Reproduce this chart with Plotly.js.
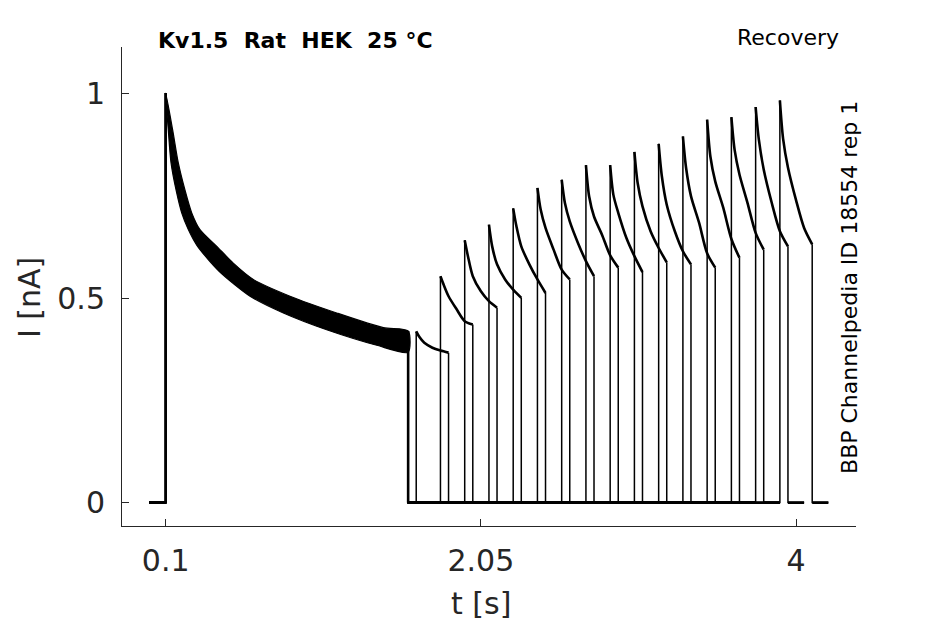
<!DOCTYPE html>
<html>
<head>
<meta charset="utf-8">
<script src="https://cdn.plot.ly/plotly-3.0.1.min.js"></script>
<style>
  html, body { margin: 0; padding: 0; background: #fff; }
  #chart { width: 945px; height: 624px; }
</style>
</head>
<body>
<div id="chart"></div>
<script>
// protocol timing [s]
const holdStart = 0.0;
const pulse1On = 0.1;
const pulse1Off = 1.6;
const pulse2Dur = 0.2;
const tailDur = 0.1;

// onset of the second (test) pulse in each sweep
const sweepStart = [1.65, 1.80, 1.95, 2.10, 2.25, 2.40, 2.55, 2.70,
                    2.85, 3.00, 3.15, 3.30, 3.45, 3.60, 3.75, 3.90];

// first pulse: noisy band (16 overlaid sweeps), upper and lower edges
const bandUpperT = [0.100, 0.143, 0.178, 0.219, 0.261, 0.312, 0.416, 0.518, 0.642, 0.869, 1.158, 1.447, 1.600];
const bandUpperI = [1.002, 0.912, 0.831, 0.765, 0.709, 0.668, 0.627, 0.586, 0.546, 0.505, 0.464, 0.428, 0.420];
const bandLowerT = [0.100, 0.116, 0.133, 0.164, 0.199, 0.240, 0.292, 0.374, 0.447, 0.622, 0.828, 1.096, 1.406, 1.600];
const bandLowerI = [1.002, 0.912, 0.831, 0.765, 0.709, 0.668, 0.630, 0.590, 0.560, 0.505, 0.464, 0.423, 0.385, 0.368];

// second pulse current, sampled at these offsets from its onset
const decayOffset = [0, 0.02, 0.05, 0.10, 0.15, 0.20];
const peakI = [0.419, 0.554, 0.642, 0.680, 0.720, 0.770, 0.790, 0.826, 0.826, 0.858, 0.878, 0.896, 0.937, 0.943, 0.968, 0.984];
const i02   = [0.405, 0.533, 0.603, 0.627, 0.676, 0.717, 0.733, 0.749, 0.753, 0.782, 0.798, 0.818, 0.847, 0.863, 0.888, 0.890];
const i05   = [0.391, 0.505, 0.554, 0.583, 0.627, 0.672, 0.688, 0.700, 0.709, 0.725, 0.729, 0.750, 0.786, 0.803, 0.815, 0.820];
const i10   = [0.379, 0.473, 0.517, 0.546, 0.583, 0.619, 0.636, 0.655, 0.648, 0.664, 0.664, 0.685, 0.721, 0.733, 0.733, 0.740];
const i15   = [0.372, 0.444, 0.493, 0.521, 0.546, 0.570, 0.591, 0.605, 0.603, 0.623, 0.615, 0.610, 0.645, 0.660, 0.664, 0.672];
const endI  = [0.367, 0.436, 0.477, 0.501, 0.513, 0.546, 0.554, 0.575, 0.564, 0.588, 0.583, 0.575, 0.599, 0.619, 0.627, 0.632];

// tick labels
const xTicks = [0.1, 2.05, 4];
const xTickText = ['0.1', '2.05', '4'];
const yTicks = [0, 0.5, 1];
const yTickText = ['0', '0.5', '1'];

const ink = '#000000';
const axisGrey = '#262626';
const font = 'DejaVu Sans, Liberation Sans, sans-serif';

const traces = [];

// first pulse band
traces.push({
    x: bandUpperT.concat(bandLowerT.slice().reverse()),
    y: bandUpperI.concat(bandLowerI.slice().reverse()),
    mode: 'lines',
    fill: 'toself',
    fillcolor: ink,
    line: { color: ink, width: 1.2, shape: 'spline', smoothing: 0.7 },
    hoverinfo: 'skip',
    showlegend: false
});

// each sweep: thin outline (edges) + thicker noisy parts (baseline, decay)
sweepStart.forEach((t0, k) => {
    const levels = [peakI[k], i02[k], i05[k], i10[k], i15[k], endI[k]];
    const decayT = decayOffset.map(d => t0 + d);
    const tOff = t0 + pulse2Dur;
    const tEnd = tOff + tailDur;

    // thin edges
    traces.push({
        x: [holdStart, pulse1On, pulse1On, null,
            pulse1Off, pulse1Off, t0, t0, null, tOff, tOff, tEnd],
        y: [0, 0, bandUpperI[0], null,
            bandLowerI[bandLowerI.length - 1], 0, 0, peakI[k], null, endI[k], 0, 0],
        mode: 'lines',
        line: { color: ink, width: 1.5 },
        hoverinfo: 'skip',
        showlegend: false
    });

    // thick baseline
    traces.push({
        x: [holdStart, pulse1On, null, pulse1Off, t0, null, tOff, tEnd],
        y: [0, 0, null, 0, 0, null, 0, 0],
        mode: 'lines',
        line: { color: ink, width: 2.8 },
        hoverinfo: 'skip',
        showlegend: false
    });

    // decaying test-pulse current
    traces.push({
        x: decayT,
        y: levels,
        mode: 'lines',
        line: { color: ink, width: 2.6, shape: 'spline', smoothing: 0.8 },
        hoverinfo: 'skip',
        showlegend: false
    });
});

// thick step edges of the first pulse
traces.push({
    x: [pulse1On, pulse1On, null, pulse1Off, pulse1Off],
    y: [0, bandUpperI[0], null, bandUpperI[bandUpperI.length - 1], 0],
    mode: 'lines',
    line: { color: ink, width: 2.6 },
    hoverinfo: 'skip',
    showlegend: false
});

const tickFont = { family: font, size: 30, color: axisGrey };

const layout = {
    width: 945,
    height: 624,
    margin: { l: 122, r: 89, t: 47, b: 98, pad: 0 },
    paper_bgcolor: '#ffffff',
    plot_bgcolor: '#ffffff',
    showlegend: false,
    xaxis: {
        range: [-0.1704, 4.371],
        tickvals: xTicks,
        ticktext: xTickText,
        ticks: 'inside',
        ticklen: 7,
        tickwidth: 1,
        tickcolor: axisGrey,
        showline: true,
        linecolor: axisGrey,
        linewidth: 1,
        showgrid: false,
        zeroline: false,
        tickfont: tickFont,
        ticklabelstandoff: 8
    },
    yaxis: {
        range: [-0.0572, 1.1148],
        tickvals: yTicks,
        ticktext: yTickText,
        ticks: 'inside',
        ticklen: 7,
        tickwidth: 1,
        tickcolor: axisGrey,
        showline: true,
        linecolor: axisGrey,
        linewidth: 1,
        showgrid: false,
        zeroline: false,
        tickfont: tickFont,
        ticklabelstandoff: 10
    },
    annotations: [
        {
            text: '<b>Kv1.5\u00A0\u00A0Rat\u00A0\u00A0HEK\u00A0\u00A025\u00A0°C</b>',
            xref: 'paper', yref: 'paper', x: 0.047, y: 1.0146,
            xanchor: 'left', yanchor: 'middle', showarrow: false,
            font: { family: font, size: 22, color: ink }
        },
        {
            text: 'Recovery',
            xref: 'paper', yref: 'paper', x: 0.8355, y: 1.0188,
            xanchor: 'left', yanchor: 'middle', showarrow: false,
            font: { family: font, size: 22, color: ink }
        },
        {
            text: 'BBP Channelpedia ID 18554 rep 1',
            xref: 'paper', yref: 'paper', x: 0.9918, y: 0.499,
            xanchor: 'center', yanchor: 'middle', textangle: -90, showarrow: false,
            font: { family: font, size: 22, color: ink }
        },
        {
            text: 'I [nA]',
            xref: 'paper', yref: 'paper', x: -0.1253, y: 0.476,
            xanchor: 'center', yanchor: 'middle', textangle: -90, showarrow: false,
            font: { family: font, size: 30, color: axisGrey }
        },
        {
            text: 't [s]',
            xref: 'paper', yref: 'paper', x: 0.489, y: -0.1608,
            xanchor: 'center', yanchor: 'middle', showarrow: false,
            font: { family: font, size: 30, color: axisGrey }
        }
    ]
};

Plotly.newPlot('chart', traces, layout, { displayModeBar: false, staticPlot: true });
</script>
</body>
</html>
